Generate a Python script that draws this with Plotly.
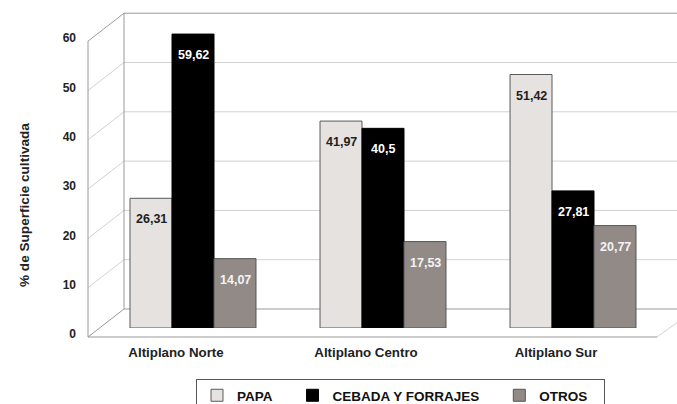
import plotly.graph_objects as go

# data
regions = ['Altiplano Norte', 'Altiplano Centro', 'Altiplano Sur']
papa = [26.31, 41.97, 51.42]
cebada = [59.62, 40.5, 27.81]
otros = [14.07, 17.53, 20.77]
y_ticks = [0, 10, 20, 30, 40, 50, 60]

W, H = 677, 404
FONT = 'Arial, Liberation Sans, sans-serif'
NB = '\u00a0'


def px(x):
    return x / W


def py(y):
    return 1 - y / H


# legend names get a little trailing padding to spread the entries like the original
series = [
    ('PAPA' + NB * 4, papa, '#e5e2e0', '#5a5a5a', '#1e1e1e'),
    ('CEBADA Y FORRAJES' + NB * 4, cebada, '#000000', '#000000', '#ffffff'),
    ('OTROS' + NB * 3, otros, '#928a87', '#555555', '#f4f4f4'),
]

fig = go.Figure()
annotations = []
for i, (name, vals, fill, edge, tcol) in enumerate(series):
    fig.add_trace(go.Bar(
        x=regions, y=vals, name=name,
        marker=dict(color=fill, line=dict(color=edge, width=1)),
        hoverinfo='skip',
    ))
    # value labels, a little below the top of each bar
    for r, v in zip(regions, vals):
        annotations.append(dict(
            x=r, y=v, xref='x', yref='y', xshift=(i - 1) * 42, yshift=-21,
            text=str(v).replace('.', ','), showarrow=False,
            font=dict(family=FONT, size=12.5, color=tcol, weight='bold'),
        ))

annotations.append(dict(
    x=px(24), y=py(205), xref='paper', yref='paper', textangle=-90,
    xanchor='center', yanchor='middle',
    text='% de Superficie cultivada', showarrow=False,
    font=dict(family=FONT, size=13.6, color='#222222', weight='bold'),
))

# pseudo 3D frame (pixel geometry of the wall / floor)
front_x, back_x, right_x = 88, 124, 677
front0, back0 = 337, 309
unit = 4.93
frame = '#9a9a9a'
grid = '#d2d2d2'
shapes = []


def seg(x0, y0, x1, y1, color, w=1):
    shapes.append(dict(type='line', xref='paper', yref='paper', layer='below',
                       x0=px(x0), y0=py(y0), x1=px(x1), y1=py(y1),
                       line=dict(color=color, width=w)))


for v in y_ticks:
    yb = back0 - v * unit
    yf = front0 - v * unit
    c = frame if v in (0, 60) else grid
    seg(back_x, yb, right_x + 5, yb, c)
    seg(front_x, yf, back_x, yb, c)
seg(back_x, back0 - 60 * unit, back_x, back0, frame)
seg(front_x, front0 - 60 * unit, front_x, front0, frame)
seg(front_x, front0, 657, front0, frame)
seg(657, front0, right_x + 5, front0 - 18, grid)

fig.update_layout(
    width=W, height=H, autosize=False,
    margin=dict(l=0, r=0, t=0, b=0, autoexpand=False),
    paper_bgcolor='white', plot_bgcolor='rgba(0,0,0,0)',
    font=dict(family=FONT, size=12, color='#222222'),
    barmode='group', bargap=0.337, bargroupgap=0,
    shapes=shapes, annotations=annotations,
    showlegend=True,
    legend=dict(
        orientation='h', x=px(196), y=py(379), xanchor='left', yanchor='top',
        bordercolor='#555555', borderwidth=1, bgcolor='white',
        font=dict(family=FONT, size=13.5, color='#111111', weight='bold'),
        traceorder='normal',
    ),
    xaxis=dict(
        domain=[px(98), px(668)], range=[-0.5, 2.5], type='category',
        showgrid=False, zeroline=False, showline=False, ticks='',
        ticklabelshift=-17, ticklabelstandoff=15, automargin=False,
        tickfont=dict(family=FONT, size=13.3, color='#222222', weight='bold'),
    ),
    yaxis=dict(
        domain=[py(328), py(328 - 60 * unit)], range=[0, 60],
        tickvals=y_ticks, anchor='free', position=px(88),
        showgrid=False, zeroline=False, showline=False, ticks='',
        ticklabelshift=6, ticklabelstandoff=12, automargin=False,
        tickfont=dict(family=FONT, size=12, color='#222222', weight='bold'),
    ),
)

fig.write_html('out.html', config={'displayModeBar': False},
               post_script="document.body.style.margin='0';")
